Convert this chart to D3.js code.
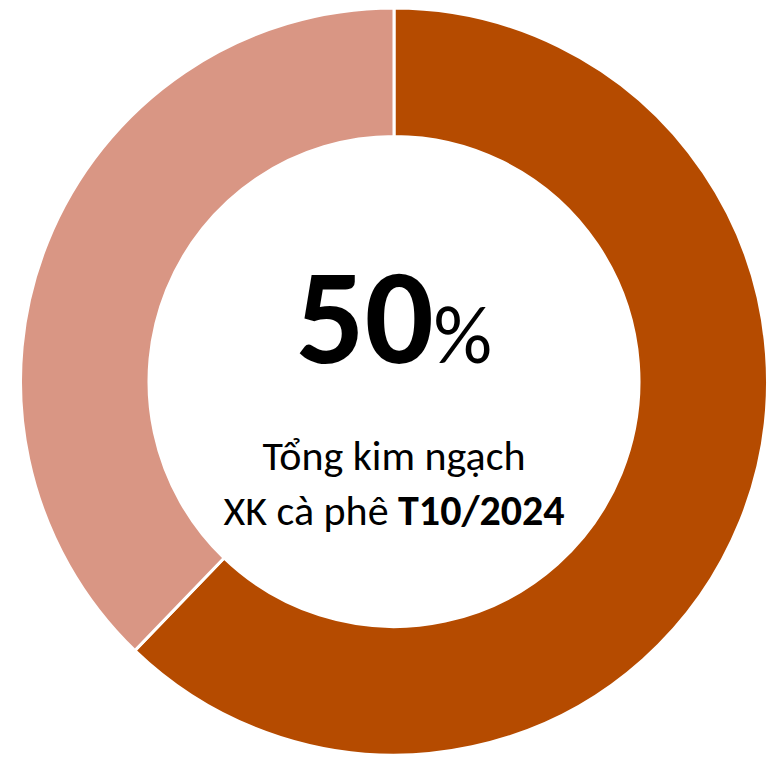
<!DOCTYPE html>
<html><head><meta charset="utf-8">
<script src="https://cdn.jsdelivr.net/npm/d3@7"></script>
<style>body{margin:0;background:#fff}svg{display:block}</style>
</head><body>
<svg id="c" width="768" height="758"></svg>
<script>
const categories = ["Phần còn lại", "Phần khác"];
const values = [62.2, 37.8];
const colors = ["#B54B00", "#D99684"];
const bigValue = "50";
const bigUnit = "%";
const line1 = "Tổng kim ngạch";
const line2a = "XK cà phê ";
const line2b = "T10/2024";

const svg = d3.select("#c");
const cx = 394, cy = 381.5, R = 373.5, r = 245;
const g = svg.append("g").attr("transform", `translate(${cx},${cy})`);
const pie = d3.pie().sort(null).value(d => d)(values);
const arc = d3.arc().innerRadius(r).outerRadius(R);
g.selectAll("path").data(pie).join("path")
  .attr("d", arc).attr("fill", (d, i) => colors[i])
  .attr("stroke", "#fff").attr("stroke-width", 3);

const font = "Carlito, Lato, 'Open Sans', sans-serif";
const t = g.append("text").attr("text-anchor", "middle").attr("y", -19)
  .attr("font-family", font).attr("fill", "#000");
t.append("tspan").attr("font-weight", "bold").attr("font-size", 136).text(bigValue);
t.append("tspan").attr("font-size", 82).text(bigUnit);

g.append("text").attr("text-anchor", "middle").attr("y", 88)
  .attr("font-family", font).attr("font-size", 42).attr("fill", "#000").text(line1);
const t2 = g.append("text").attr("text-anchor", "middle").attr("y", 143)
  .attr("font-family", font).attr("font-size", 42).attr("fill", "#000");
t2.append("tspan").text(line2a);
t2.append("tspan").attr("font-weight", "bold").text(line2b);
</script>
</body></html>
